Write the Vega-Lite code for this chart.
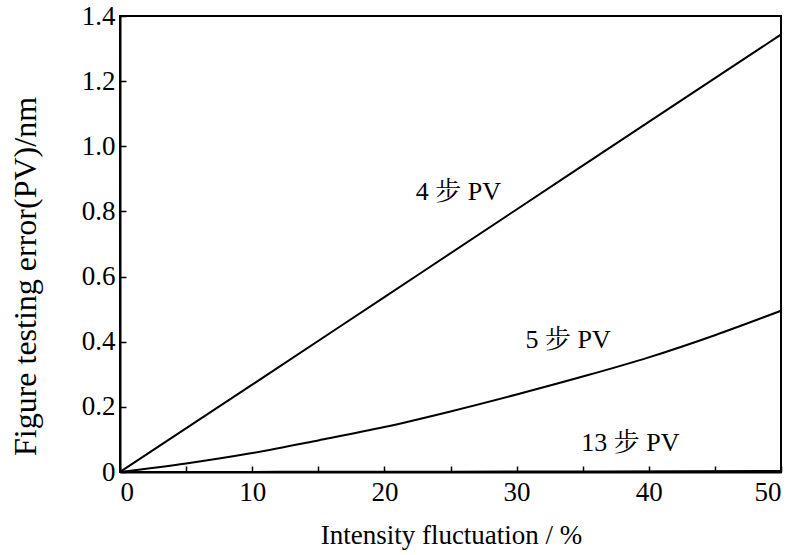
{
  "$schema": "https://vega.github.io/schema/vega-lite/v6.json",
  "width": 661,
  "height": 456,
  "autosize": "none",
  "padding": {"left": 120, "top": 16, "right": 12, "bottom": 83},
  "background": "white",
  "config": {
    "view": {"stroke": "black", "strokeWidth": 2},
    "font": "Liberation Serif"
  },
  "datasets": {
    "curves": [
      {"x": 0, "y": 0, "s": "4"}, {"x": 10, "y": 0.268, "s": "4"}, {"x": 20, "y": 0.537, "s": "4"}, {"x": 30, "y": 0.806, "s": "4"}, {"x": 40, "y": 1.075, "s": "4"}, {"x": 50, "y": 1.343, "s": "4"},
      {"x": 0, "y": 0, "s": "5"}, {"x": 5, "y": 0.026, "s": "5"}, {"x": 10, "y": 0.058, "s": "5"}, {"x": 15, "y": 0.097, "s": "5"}, {"x": 20, "y": 0.138, "s": "5"}, {"x": 25, "y": 0.186, "s": "5"}, {"x": 30, "y": 0.238, "s": "5"}, {"x": 35, "y": 0.293, "s": "5"}, {"x": 40, "y": 0.352, "s": "5"}, {"x": 45, "y": 0.42, "s": "5"}, {"x": 50, "y": 0.495, "s": "5"},
      {"x": 0, "y": 0, "s": "13"}, {"x": 25, "y": 0.001, "s": "13"}, {"x": 50, "y": 0.003, "s": "13"}
    ],
    "labels": [
      {"x": 25.6, "y": 0.86, "t": "4 步 PV"},
      {"x": 33.9, "y": 0.405, "t": "5 步 PV"},
      {"x": 38.6, "y": 0.089, "t": "13 步 PV"}
    ]
  },
  "layer": [
    {
      "data": {"name": "curves"},
      "mark": {"type": "line", "color": "black", "strokeWidth": 2, "interpolate": "monotone"},
      "encoding": {
        "x": {"field": "x", "type": "quantitative", "scale": {"domain": [0, 50], "nice": false},
          "axis": {"title": "Intensity fluctuation / %", "values": [0,5,10,15,20,25,30,35,40,45,50], "labelExpr": "datum.value % 10 == 0 ? datum.label : ''",
            "domainColor": "black", "domainWidth": 2, "tickColor": "black", "tickWidth": 1.5, "tickSize": -6, "grid": false,
            "labelFont": "Liberation Serif", "labelFontSize": 27, "labelColor": "black", "labelPadding": 13,
            "titleFont": "Liberation Serif", "titleFontSize": 27, "titleFontWeight": "normal", "titleColor": "black",
            "titleBaseline": "alphabetic", "titleX": 331, "titleY": 71}},
        "y": {"field": "y", "type": "quantitative", "scale": {"domain": [0, 1.4], "nice": false},
          "axis": {"title": "Figure testing error(PV)/nm", "values": [0,0.2,0.4,0.6,0.8,1.0,1.2,1.4], "labelExpr": "datum.value == 0 ? '0' : format(datum.value, '.1f')",
            "domainColor": "black", "domainWidth": 2, "tickColor": "black", "tickWidth": 1.5, "tickSize": -6, "grid": false,
            "labelFont": "Liberation Serif", "labelFontSize": 27, "labelColor": "black", "labelPadding": 11,
            "titleFont": "Liberation Serif", "titleFontSize": 32, "titleFontWeight": "normal", "titleColor": "black",
            "titleX": -78, "titleY": 260}},
        "detail": {"field": "s"}
      }
    },
    {
      "data": {"name": "labels"},
      "mark": {"type": "text", "font": "Liberation Serif, Noto Serif CJK SC, Noto Sans CJK SC", "fontSize": 26, "color": "black"},
      "encoding": {
        "x": {"field": "x", "type": "quantitative"},
        "y": {"field": "y", "type": "quantitative"},
        "text": {"field": "t"}
      }
    }
  ]
}
